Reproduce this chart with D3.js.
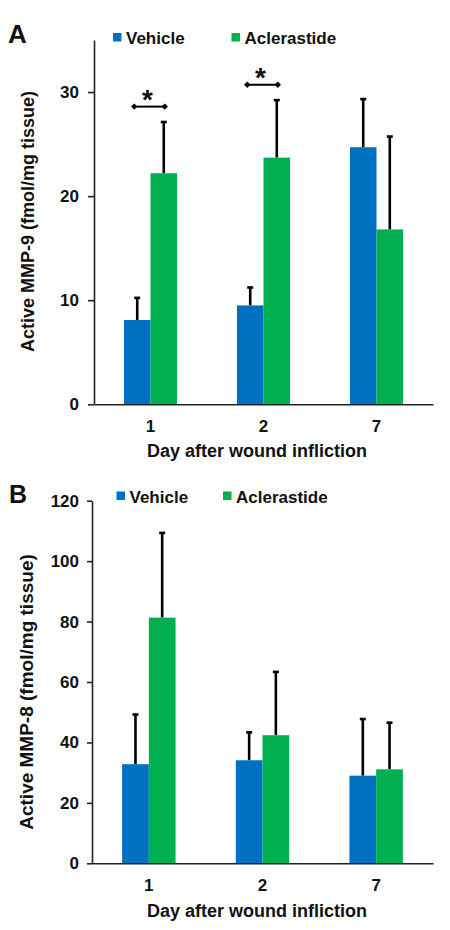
<!DOCTYPE html>
<html>
<head>
<meta charset="utf-8">
<script src="https://cdn.jsdelivr.net/npm/d3@7"></script>
<style>
  html, body { margin: 0; padding: 0; background: #fff; }
  svg text { font-family: "Liberation Sans", Arial, sans-serif; font-weight: bold; fill: #111; }
</style>
</head>
<body>
<svg id="chart" width="450" height="930"></svg>
<script>
// ---------- data ----------
const categories = ["1", "2", "7"];
const seriesNames = ["Vehicle", "Aclerastide"];
const seriesColors = ["#0070C0", "#00B050"];

const mmp9Vehicle = [8.1, 9.5, 24.7];
const mmp9VehicleErr = [2.2, 1.8, 4.7];
const mmp9Aclerastide = [22.2, 23.7, 16.8];
const mmp9AclerastideErr = [5.0, 5.6, 9.0];
const mmp9Ticks = [0, 10, 20, 30];
const mmp9Significance = [{ category: "1", level: 28.6, label: "*" }, { category: "2", level: 30.7, label: "*" }];

const mmp8Vehicle = [32.8, 34.1, 29.0];
const mmp8VehicleErr = [16.7, 9.5, 19.0];
const mmp8Aclerastide = [81.3, 42.4, 31.1];
const mmp8AclerastideErr = [28.3, 21.2, 15.7];
const mmp8Ticks = [0, 20, 40, 60, 80, 100, 120];

const xTitle = "Day after wound infliction";

// ---------- drawing ----------
const svg = d3.select("#chart");

function panel(cfg) {
  const g = svg.append("g");
  const x = d3.scaleBand().domain(categories).range([cfg.left, cfg.right])
    .paddingInner(0.53).paddingOuter(0.265);
  const xs = d3.scaleBand().domain(seriesNames).range([0, x.bandwidth()]);
  const y = d3.scaleLinear().domain([0, cfg.yMax]).range([cfg.bottom, cfg.top]);

  const rows = [];
  categories.forEach((c, i) => {
    rows.push({ cat: c, s: seriesNames[0], v: cfg.vals[0][i], e: cfg.errs[0][i], color: seriesColors[0] });
    rows.push({ cat: c, s: seriesNames[1], v: cfg.vals[1][i], e: cfg.errs[1][i], color: seriesColors[1] });
  });

  // error bars (drawn behind bars)
  const eb = g.append("g").attr("stroke", "#000").attr("stroke-width", 2.6);
  rows.forEach(d => {
    const cx = x(d.cat) + xs(d.s) + xs.bandwidth() / 2;
    eb.append("line").attr("x1", cx).attr("x2", cx).attr("y1", y(d.v)).attr("y2", y(d.v + d.e));
    eb.append("line").attr("x1", cx - 3).attr("x2", cx + 3).attr("y1", y(d.v + d.e) + 0.8).attr("y2", y(d.v + d.e) + 0.8);
  });

  // bars
  g.append("g").selectAll("rect").data(rows).join("rect")
    .attr("x", d => x(d.cat) + xs(d.s))
    .attr("width", xs.bandwidth())
    .attr("y", d => y(d.v))
    .attr("height", d => y(0) - y(d.v))
    .attr("fill", d => d.color);

  // y axis
  const ya = g.append("g").attr("transform", `translate(${cfg.left},0)`)
    .call(d3.axisLeft(y).tickValues(cfg.ticks).tickSize(cfg.tickSize).tickSizeOuter(0).tickPadding(cfg.tickPad));
  ya.select(".domain").attr("stroke", "#222").attr("stroke-width", 1.6);
  ya.selectAll(".tick line").attr("stroke", "#222").attr("stroke-width", 1.6);
  ya.selectAll(".tick text").style("font-size", "17px").attr("fill", "#111");

  // x axis
  const xa = g.append("g").attr("transform", `translate(0,${cfg.bottom})`)
    .call(d3.axisBottom(x).tickSize(0).tickSizeOuter(0).tickPadding(15.5));
  xa.select(".domain").attr("stroke", "#222").attr("stroke-width", 1.6);
  xa.selectAll(".tick text").style("font-size", "17px").attr("fill", "#111");

  // x title
  g.append("text").attr("x", 257).attr("y", cfg.xTitleY).attr("text-anchor", "middle")
    .style("font-size", "18px").text(xTitle);

  // y title
  g.append("text").attr("transform", `translate(${cfg.yTitleX},${cfg.yTitleY}) rotate(-90)`)
    .attr("text-anchor", "middle").style("font-size", cfg.yTitleSize + "px").text(cfg.yTitle);

  // panel letter
  g.append("text").attr("x", cfg.letterX).attr("y", cfg.letterY)
    .style("font-size", cfg.letterSize + "px").text(cfg.letter);

  // legend
  seriesNames.forEach((s, i) => {
    g.append("rect").attr("x", cfg.legendX[i]).attr("y", cfg.legendY - 11)
      .attr("width", 8.5).attr("height", 8.5).attr("fill", seriesColors[i]);
    g.append("text").attr("x", cfg.legendX[i] + 13).attr("y", cfg.legendY)
      .style("font-size", "17px").text(s);
  });

  // significance brackets
  (cfg.sig || []).forEach(sg => {
    const x1 = x(sg.category) + xs(seriesNames[0]) + xs.bandwidth() / 2 - 3;
    const x2 = x(sg.category) + xs(seriesNames[1]) + xs.bandwidth() / 2 + 1;
    const yy = y(sg.level);
    g.append("line").attr("x1", x1).attr("x2", x2).attr("y1", yy).attr("y2", yy)
      .attr("stroke", "#000").attr("stroke-width", 2);
    [x1, x2].forEach(px => {
      const r = 3.2;
      g.append("path").attr("d", `M${px - r},${yy}L${px},${yy - r}L${px + r},${yy}L${px},${yy + r}Z`).attr("fill", "#000");
    });
    g.append("text").attr("x", (x1 + x2) / 2 - 2).attr("y", yy + 2.5).attr("text-anchor", "middle")
      .style("font-size", "28px").text(sg.label);
  });
}

panel({
  left: 94, right: 433, top: 40, bottom: 404.3, yMax: 35,
  vals: [mmp9Vehicle, mmp9Aclerastide], errs: [mmp9VehicleErr, mmp9AclerastideErr],
  ticks: mmp9Ticks, tickSize: 6, tickPad: 9,
  xTitleY: 456.5, yTitle: "Active MMP-9 (fmol/mg tissue)", yTitleX: 34, yTitleY: 221.5, yTitleSize: 18,
  letter: "A", letterX: 8, letterY: 43, letterSize: 26,
  legendX: [113, 231.5], legendY: 44,
  sig: mmp9Significance
});

panel({
  left: 92, right: 433, top: 500.7, bottom: 863.3, yMax: 120,
  vals: [mmp8Vehicle, mmp8Aclerastide], errs: [mmp8VehicleErr, mmp8AclerastideErr],
  ticks: mmp8Ticks, tickSize: 5, tickPad: 8,
  xTitleY: 917, yTitle: "Active MMP-8 (fmol/mg tissue)", yTitleX: 33, yTitleY: 692, yTitleSize: 19,
  letter: "B", letterX: 9, letterY: 502.5, letterSize: 25,
  legendX: [116.5, 223], legendY: 502.5
});
</script>
</body>
</html>
